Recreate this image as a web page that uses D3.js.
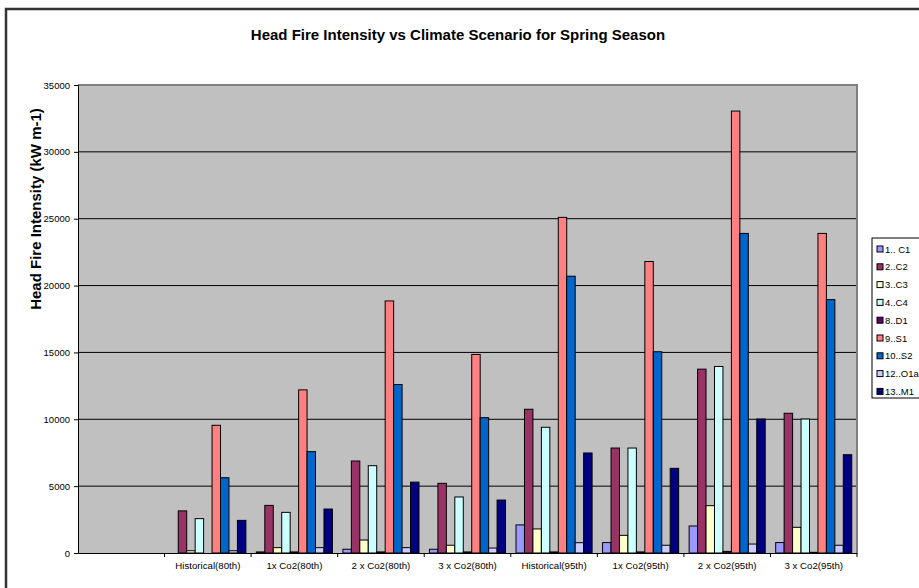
<!DOCTYPE html>
<html>
<head>
<meta charset="utf-8">
<script src="https://cdn.jsdelivr.net/npm/d3@7"></script>
<style>
  html, body { margin: 0; padding: 0; background: #fff; }
  svg { display: block; font-family: "Liberation Sans", Arial, sans-serif; }
</style>
</head>
<body>
<svg id="chart" width="919" height="588"></svg>
<script>
// Climate scenarios (the first slot is an empty category)
const categories = ["", "Historical(80th)", "1x Co2(80th)", "2 x Co2(80th)", "3 x Co2(80th)",
                    "Historical(95th)", "1x Co2(95th)", "2 x Co2(95th)", "3 x Co2(95th)"];

// Fuel type series
const seriesNames = ["1.. C1", "2..C2", "3..C3", "4..C4", "8..D1", "9..S1", "10..S2", "12..O1a", "13..M1"];
const seriesColors = ["#9999FF", "#993366", "#FFFFCC", "#CCFFFF", "#660066", "#FF8080", "#0066CC", "#CCCCFF", "#000080"];

// Head fire intensity (kW m-1) per scenario
const c1  = [null, 0,    80,    280,   280,   2100,  780,   2020,  780];
const c2  = [null, 3150, 3560,  6880,  5210,  10750, 7850,  13750, 10450];
const c3  = [null, 170,  400,   970,   580,   1800,  1320,  3540,  1920];
const c4  = [null, 2570, 3040,  6530,  4190,  9400,  7850,  13950, 10020];
const d1  = [null, 0,    80,    80,    80,    80,    80,    120,   50];
const s1  = [null, 9550, 12200, 18850, 14850, 25100, 21800, 33050, 23900];
const s2  = [null, 5630, 7580,  12600, 10120, 20700, 15050, 23900, 18950];
const o1a = [null, 170,  400,   400,   370,   770,   580,   670,   580];
const m1  = [null, 2440, 3290,  5300,  3960,  7480,  6330,  10020, 7350];

const seriesValues = [c1, c2, c3, c4, d1, s1, s2, o1a, m1];

const yTicks = [0, 5000, 10000, 15000, 20000, 25000, 30000, 35000];

const svg = d3.select("#chart");
const W = 919, H = 588;
const plot = { left: 78, right: 857, top: 85, bottom: 553 };

// Chart area frame
svg.append("rect")
  .attr("x", 6).attr("y", 9)
  .attr("width", W + 20).attr("height", H + 20)
  .attr("fill", "#fff").attr("stroke", "#333").attr("stroke-width", 2.5);

// Title
svg.append("text")
  .attr("x", 458).attr("y", 40)
  .attr("text-anchor", "middle")
  .attr("font-size", 15).attr("font-weight", "bold")
  .attr("fill", "#000")
  .text("Head Fire Intensity vs Climate Scenario for Spring Season");

const x = d3.scaleBand().domain(categories).range([plot.left, plot.right]).paddingInner(0).paddingOuter(0);
const xInner = d3.scaleBand().domain(d3.range(seriesNames.length)).range([0, x.bandwidth()])
  .paddingInner(0).paddingOuter(0.62);
const y = d3.scaleLinear().domain([0, 35000]).range([plot.bottom, plot.top]);

// Plot area background
svg.append("rect")
  .attr("x", plot.left).attr("y", plot.top)
  .attr("width", plot.right - plot.left).attr("height", plot.bottom - plot.top)
  .attr("fill", "#C0C0C0");

// Gridlines
svg.append("g").selectAll("line")
  .data(yTicks.filter(t => t > 0 && t < 35000))
  .join("line")
  .attr("x1", plot.left).attr("x2", plot.right)
  .attr("y1", d => y(d)).attr("y2", d => y(d))
  .attr("stroke", "#000").attr("stroke-width", 1);

// Plot area border (top and right)
svg.append("path")
  .attr("d", `M${plot.left},${plot.top}H${plot.right}V${plot.bottom}`)
  .attr("fill", "none").attr("stroke", "#808080").attr("stroke-width", 2);

// Bars
const barData = [];
seriesValues.forEach((vals, si) => {
  vals.forEach((v, ci) => {
    if (v !== null) barData.push({ si, cat: categories[ci], v });
  });
});
svg.append("g").selectAll("rect")
  .data(barData)
  .join("rect")
  .attr("x", d => x(d.cat) + xInner(d.si))
  .attr("width", xInner.bandwidth())
  .attr("y", d => y(d.v))
  .attr("height", d => y(0) - y(d.v))
  .attr("fill", d => seriesColors[d.si])
  .attr("stroke", "#000").attr("stroke-width", 1)
  .attr("stroke-opacity", d => d.v > 0 ? 1 : 0);

// Y axis
const yAxis = svg.append("g")
  .attr("transform", `translate(${plot.left},0)`)
  .call(d3.axisLeft(y).tickValues(yTicks).tickFormat(d3.format("d")).tickSizeOuter(0).tickSize(4).tickPadding(4));
yAxis.select(".domain").attr("stroke", "#000");
yAxis.selectAll("line").attr("stroke", "#000");
yAxis.selectAll("text").attr("font-size", 9.5).attr("fill", "#000")
  .attr("font-family", "Liberation Sans, Arial, sans-serif");

// X axis
const xAxis = svg.append("g")
  .attr("transform", `translate(0,${plot.bottom})`)
  .call(d3.axisBottom(x).tickSize(0).tickPadding(9).tickSizeOuter(0));
xAxis.select(".domain").attr("stroke", "#000");
xAxis.selectAll("text").attr("font-size", 9.7).attr("fill", "#000")
  .attr("font-family", "Liberation Sans, Arial, sans-serif");
// Tick marks between categories
svg.append("g").selectAll("line")
  .data(categories.slice(1).concat(["__end"]))
  .join("line")
  .attr("x1", d => d === "__end" ? plot.right : x(d))
  .attr("x2", d => d === "__end" ? plot.right : x(d))
  .attr("y1", plot.bottom).attr("y2", plot.bottom + 4)
  .attr("stroke", "#000");

// Y axis title
svg.append("text")
  .attr("transform", `translate(41,209) rotate(-90)`)
  .attr("text-anchor", "middle")
  .attr("font-size", 15).attr("font-weight", "bold").attr("fill", "#000")
  .text("Head Fire Intensity (kW m-1)");

// Legend
const lg = svg.append("g").attr("transform", "translate(872,238)");
lg.append("rect")
  .attr("x", 0).attr("y", 0).attr("width", 60).attr("height", 160)
  .attr("fill", "#fff").attr("stroke", "#000").attr("stroke-width", 1);
const items = lg.selectAll("g.item")
  .data(seriesNames)
  .join("g")
  .attr("class", "item")
  .attr("transform", (d, i) => `translate(0,${11 + i * 17.8})`);
items.append("rect")
  .attr("x", 5).attr("y", -3).attr("width", 6).attr("height", 6)
  .attr("fill", (d, i) => seriesColors[i])
  .attr("stroke", "#000").attr("stroke-width", 1);
items.append("text")
  .attr("x", 13).attr("y", 3.5)
  .attr("font-size", 9.5).attr("fill", "#000")
  .text(d => d);
</script>
</body>
</html>
